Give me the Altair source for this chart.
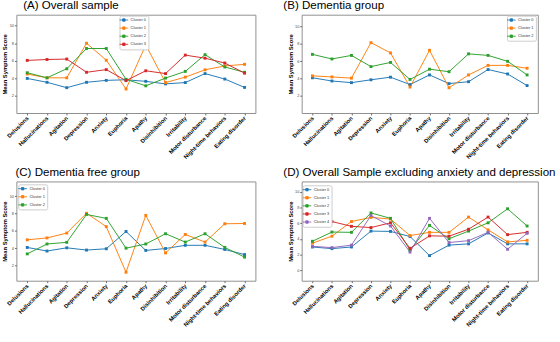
import altair as alt
import pandas as pd

symptoms = ["Delusions", "Hallucinations", "Agitation", "Depression", "Anxiety",
            "Euphoria", "Apathy", "Disinhibition", "Irritability",
            "Motor disturbance", "Night-time behaviors", "Eating disorder"]

cluster_names = ["Cluster 0", "Cluster 1", "Cluster 2", "Cluster 3", "Cluster 4"]
cluster_colors = ["#1f77b4", "#ff7f0e", "#2ca02c", "#d62728", "#9467bd"]

# (A) Overall sample
a_c0 = [4.00, 3.56, 2.95, 3.56, 3.78, 3.85, 3.67, 3.38, 3.53, 4.55, 3.93, 2.98]
a_c1 = [4.50, 4.07, 4.07, 8.00, 6.07, 2.80, 7.80, 3.53, 4.15, 4.98, 5.42, 5.60]
a_c2 = [4.65, 4.07, 5.10, 7.40, 7.40, 3.90, 3.16, 4.04, 4.80, 6.70, 5.30, 4.70]
a_c3 = [6.05, 6.15, 6.20, 4.70, 5.00, 3.75, 4.87, 4.55, 6.65, 6.30, 5.75, 4.60]

# (B) Dementia group
b_c0 = [4.10, 3.73, 3.54, 3.87, 4.17, 3.32, 4.43, 3.43, 3.65, 5.05, 4.54, 3.20]
b_c1 = [4.32, 4.20, 4.06, 8.15, 6.97, 3.03, 7.27, 2.95, 4.43, 5.53, 5.53, 5.20]
b_c2 = [6.80, 6.27, 6.68, 5.39, 5.87, 3.91, 5.09, 4.80, 6.86, 6.68, 6.00, 4.43]

# (C) Dementia free group
c_c0 = [4.10, 3.69, 4.06, 3.80, 3.95, 5.94, 3.76, 3.98, 4.35, 4.35, 3.87, 3.28]
c_c1 = [4.98, 5.20, 5.76, 8.04, 6.50, 1.25, 7.79, 3.47, 5.60, 4.72, 6.83, 6.86]
c_c2 = [3.36, 4.50, 4.69, 7.90, 7.45, 4.02, 4.50, 5.68, 4.72, 5.68, 4.10, 2.99]

# (D) Overall sample excluding anxiety and depression
d_c0 = [2.97, 2.76, 2.97, 5.00, 4.96, 4.31, 1.87, 3.21, 3.37, 4.76, 3.37, 3.37]
d_c1 = [3.46, 4.35, 6.22, 6.75, 6.54, 4.43, 4.84, 4.84, 6.79, 5.16, 3.62, 3.82]
d_c2 = [3.70, 4.88, 4.84, 7.32, 6.63, 2.56, 5.73, 4.02, 5.00, 6.06, 7.85, 5.65]
d_c3 = [6.95, 6.22, 5.61, 5.45, 6.06, 2.80, 4.39, 4.35, 5.24, 6.79, 4.55, 4.84]
d_c4 = [3.05, 2.89, 3.21, 6.99, 5.65, 2.32, 6.63, 3.54, 3.78, 4.84, 2.68, 4.72]

LEGEND_SYMBOL = "M-1.8,0L1.8,0M-0.5,-0.5L0.5,-0.5L0.5,0.5L-0.5,0.5Z"


def panel(title, title_dx, series, y_domain, y_ticks, width, height, leg_x, leg_y):
    rows = []
    for i, values in enumerate(series):
        for s, v in zip(symptoms, values):
            rows.append({"Symptom": s, "Score": v, "Cluster": cluster_names[i]})
    df = pd.DataFrame(rows)
    names = cluster_names[:len(series)]
    colors = cluster_colors[:len(series)]

    legend = alt.Legend(
        title=None, orient="none", legendX=leg_x, legendY=leg_y,
        labelFontSize=4, labelColor="#333333", labelFont="Liberation Sans",
        symbolType=LEGEND_SYMBOL, symbolSize=25, symbolStrokeWidth=0.9,
        labelOffset=4, padding=1.5, rowPadding=0.4,
        strokeColor="#cccccc", fillColor="white", cornerRadius=1.5,
    )
    x = alt.X("Symptom:N", sort=symptoms, title=None,
              scale=alt.Scale(type="point", padding=0.55),
              axis=alt.Axis(labelAngle=-45, labelAlign="right", labelBaseline="middle",
                            labelFontSize=6, labelFont="Liberation Sans",
                            labelFontWeight="bold", labelColor="black",
                            labelPadding=2, labelOverlap=False, labelLimit=0,
                            tickSize=2, tickColor="#666666", domain=False, grid=False))
    y = alt.Y("Score:Q", title="Mean Symptom Score",
              scale=alt.Scale(domain=y_domain, nice=False, zero=False),
              axis=alt.Axis(values=y_ticks, labelFontSize=4, labelColor="#444444",
                            labelFont="Liberation Sans", labelPadding=1,
                            tickSize=2, tickColor="#666666", domain=False, grid=False,
                            titleFontSize=6, titleFont="Liberation Sans",
                            titleFontWeight="bold", titleColor="black",
                            titlePadding=2, minExtent=7, maxExtent=7))
    color = alt.Color("Cluster:N", scale=alt.Scale(domain=names, range=colors),
                      legend=legend)
    base = alt.Chart(df)
    lines = base.mark_line(strokeWidth=1).encode(x=x, y=y, color=color)
    points = base.mark_point(filled=True, shape="square", size=9, opacity=1).encode(
        x=x, y=y, color=color)
    return alt.layer(lines, points).properties(
        width=width, height=height,
        title=alt.TitleParams(title, anchor="start", frame="group", dx=title_dx,
                              offset=-6, baseline="alphabetic", fontSize=12,
                              font="Liberation Sans", fontWeight="normal", color="black"),
    )


pa = panel("(A) Overall sample", 7, [a_c0, a_c1, a_c2, a_c3],
           [0.07, 11.24], [2, 4, 6, 8, 10], 248, 102, 107, 1)
pb = panel("(B) Dementia group", -19, [b_c0, b_c1, b_c2],
           [0.04, 11.37], [2, 4, 6, 8, 10], 245, 102, 213, 1)
pc = panel("(C) Dementia free group", -1, [c_c0, c_c1, c_c2],
           [0.27, 11.7], [2, 4, 6, 8, 10], 248, 103, 2, 3)
pd_ = panel("(D) Overall Sample excluding anxiety and depression", -19,
            [d_c0, d_c1, d_c2, d_c3, d_c4],
            [-1.34, 11.34], [0, 2, 4, 6, 8, 10], 245, 103, 1, 4)

chart = alt.concat(
    pa, pb, pc, pd_, columns=2, spacing={"row": 71, "column": 48}, bounds="flush"
).resolve_scale(
    color="independent"
).properties(
    padding={"left": 1, "top": -8, "right": 3, "bottom": 0},
    background="white",
).configure_view(
    stroke="#8c8c8c", strokeWidth=1,
)

chart.save("out.html", embed_options={"renderer": "svg", "actions": False})
